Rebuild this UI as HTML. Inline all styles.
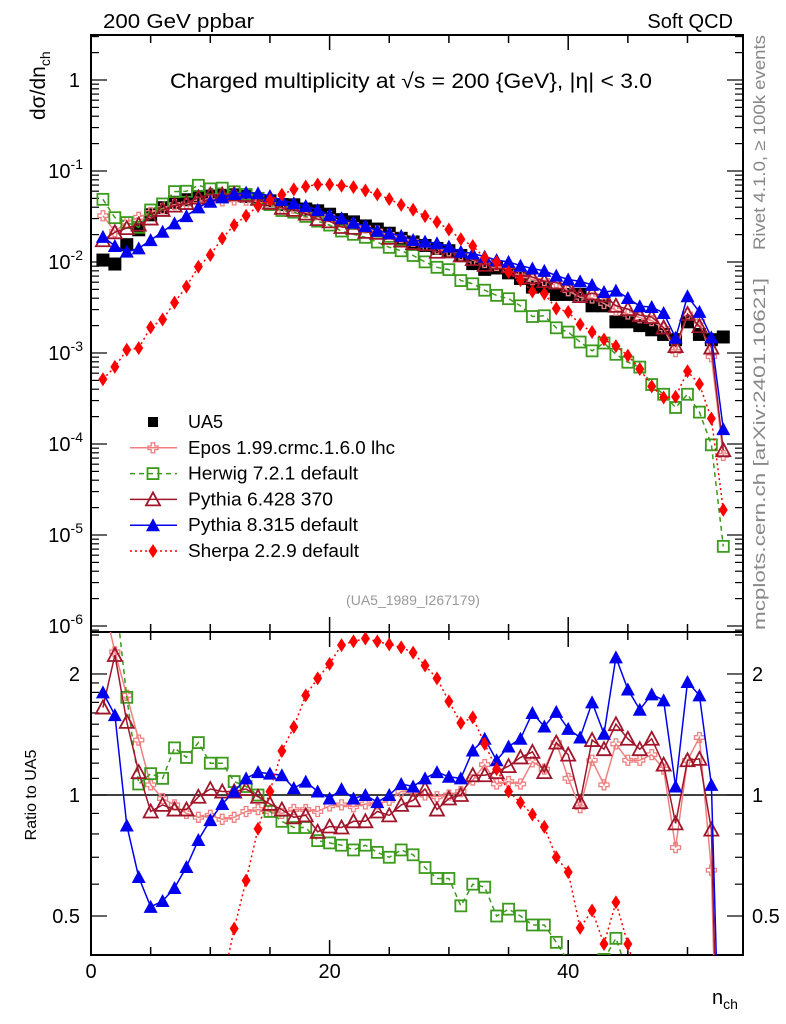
<!DOCTYPE html>
<html><head><meta charset="utf-8">
<style>
html,body{margin:0;padding:0;background:#fff;overflow:hidden;width:786px;height:1024px;}
svg{display:block;overflow:hidden;font-family:"Liberation Sans",sans-serif;}
</style></head>
<body>
<svg id="chart" width="786" height="1024" viewBox="0 0 786 1024" xmlns="http://www.w3.org/2000/svg">
<defs>
<clipPath id="clipMain"><rect x="91" y="35" width="652" height="597"/></clipPath>
<clipPath id="clipRatio"><rect x="91" y="632" width="652" height="323"/></clipPath>
</defs>
<text x="103" y="28" font-size="20" textLength="151" lengthAdjust="spacingAndGlyphs">200 GeV ppbar</text>
<text x="733" y="28" font-size="20" text-anchor="end">Soft QCD</text>
<text x="170" y="88" font-size="21" textLength="482" lengthAdjust="spacingAndGlyphs">Charged multiplicity at √s = 200 {GeV}, |η| &lt; 3.0</text>
<text transform="translate(45,120) rotate(-90)" font-size="21">dσ/dn<tspan font-size="14" dy="5">ch</tspan></text>
<text transform="translate(36,795) rotate(-90)" font-size="16" text-anchor="middle">Ratio to UA5</text>
<text transform="translate(765,250) rotate(-90)" font-size="17" fill="#888" textLength="215" lengthAdjust="spacingAndGlyphs">Rivet 4.1.0, ≥ 100k events</text>
<text transform="translate(765,630) rotate(-90)" font-size="17" fill="#888" textLength="352" lengthAdjust="spacingAndGlyphs">mcplots.cern.ch [arXiv:2401.10621]</text>
<text x="413" y="605" font-size="14" fill="#999" text-anchor="middle">(UA5_1989_I267179)</text>
<text x="712" y="1004" font-size="20">n<tspan font-size="14" dy="5">ch</tspan></text>
<g id="axes"></g>
<g id="mainMarks" clip-path="url(#clipMain)"></g>
<g id="ratioMarks" clip-path="url(#clipRatio)"></g>
<g id="legend"></g>
</svg>
<script>
const nch = [1,2,3,4,5,6,7,8,9,10,11,12,13,14,15,16,17,18,19,20,21,22,23,24,25,26,27,28,29,30,31,32,33,34,35,36,37,38,39,40,41,42,43,44,45,46,47,48,49,50,51,52,53];
const ua5 = [0.0105,0.0095,0.0155,0.0226,0.033,0.0395,0.0453,0.0483,0.0516,0.053,0.054,0.0547,0.0526,0.0499,0.047,0.0428,0.0425,0.0382,0.0365,0.0335,0.0292,0.0276,0.0249,0.023,0.0207,0.0182,0.0166,0.0152,0.0141,0.0133,0.0118,0.0096,0.0083,0.0086,0.0076,0.0066,0.0053,0.0054,0.0044,0.0044,0.0044,0.0033,0.0033,0.0022,0.0022,0.0020,0.0018,0.0016,0.0014,0.0022,0.0016,0.0014,0.0015];
const ratioEpos = [3.07,2.27,1.77,1.37,1.06,0.98,0.945,0.90,0.88,0.89,0.87,0.88,0.91,0.92,0.91,0.90,0.92,0.92,0.91,0.94,0.945,0.935,0.95,0.95,0.97,1.02,1.02,1.0,0.99,1.0,1.02,1.09,1.19,1.065,1.08,1.065,1.21,1.16,1.35,1.10,0.93,1.22,1.06,1.34,1.22,1.22,1.26,1.16,0.74,1.22,1.39,0.65,0.05];
const ratioHerwig = [4.65,3.23,1.75,1.065,1.13,1.10,1.31,1.24,1.35,1.20,1.20,1.08,1.05,1.0,0.91,0.86,0.83,0.83,0.77,0.76,0.75,0.73,0.75,0.72,0.70,0.73,0.71,0.66,0.62,0.62,0.53,0.60,0.59,0.50,0.52,0.50,0.475,0.475,0.43,0.386,0.30,0.32,0.39,0.44,0.36,0.35,0.25,0.22,0.18,0.16,0.14,0.07,0.005];
const ratioPy6 = [1.65,2.23,1.52,1.14,0.91,0.945,0.92,0.92,0.99,1.035,1.02,1.02,1.035,0.99,0.95,0.92,0.88,0.89,0.81,0.835,0.83,0.86,0.86,0.91,0.89,0.945,0.97,1.035,0.92,0.98,1.0,1.12,1.12,1.14,1.18,1.24,1.28,1.14,1.35,1.26,0.96,1.37,1.30,1.50,1.38,1.30,1.38,1.19,0.85,1.22,1.23,0.82,0.057];
const ratioPy8 = [1.80,1.58,0.84,0.625,0.527,0.545,0.587,0.662,0.773,0.866,0.95,1.02,1.10,1.14,1.13,1.12,1.04,1.08,1.02,0.98,1.035,0.98,1.0,0.96,1.0,1.065,1.05,1.10,1.14,1.11,1.10,1.29,1.38,1.22,1.32,1.38,1.60,1.48,1.61,1.46,1.39,1.70,1.42,2.20,1.83,1.63,1.78,1.72,1.05,1.91,1.77,1.06,0.097];
const ratioSherpa = [0.049,0.074,0.07,0.05,0.058,0.059,0.079,0.111,0.172,0.225,0.337,0.465,0.613,0.824,1.02,1.287,1.476,1.77,1.95,2.12,2.36,2.41,2.45,2.41,2.37,2.33,2.26,2.10,1.95,1.71,1.51,1.56,1.34,1.16,1.02,0.957,0.894,0.833,0.70,0.643,0.467,0.516,0.426,0.541,0.426,0.334,0.239,0.2025,0.236,0.286,0.284,0.136,0.0126];
const xTickLabels = [0,20,40];
const yTickExps = [0,-1,-2,-3,-4,-5,-6];
const ratioTickLabels = [2,1,0.5];
const legendLabels = ["UA5","Epos 1.99.crmc.1.6.0 lhc","Herwig 7.2.1 default","Pythia 6.428 370","Pythia 8.315 default","Sherpa 2.2.9 default"];

const NS="http://www.w3.org/2000/svg";
const X0=91,X1=743,YT=35,YM=632,YB=955;
const xs = n => 91 + n*11.93;
const ys = v => 80 - 91*Math.log10(v);
const yr = r => 795 - 402*Math.log10(r);
function mk(tag,attrs,parent){const e=document.createElementNS(NS,tag);for(const k in attrs)e.setAttribute(k,attrs[k]);parent.appendChild(e);return e;}
const axes=document.getElementById('axes');
let f1=mk('rect',{x:X0,y:YT,width:X1-X0,height:YM-YT,fill:'none',stroke:'#000','stroke-width':2},axes);


let f2=mk('rect',{x:X0,y:YM,width:X1-X0,height:YB-YM,fill:'none',stroke:'#000','stroke-width':2},axes);


for(let v=0;v<=54;v+=5){
  const x=xs(v); if(x>X1) break;
  const L=(v%20===0)?15:8;
  for(const [y0,d] of [[YT,1],[YM,-1],[YM,1],[YB,-1]]){
    const t=mk('line',{x1:x,x2:x,y1:y0,y2:y0+d*L,stroke:'#000','stroke-width':1.5},axes);
    
    
  }
}
xTickLabels.forEach(v=>{
  const t=mk('text',{x:xs(v),y:978,'font-size':20,'text-anchor':'middle'},axes);
  t.textContent=v;
  
  
});
for(let e=-7;e<=0;e++){
  for(let m=1;m<=9;m++){
    const y=ys(m*Math.pow(10,e)); if(y<YT||y>YM) continue;
    const L=m===1?16:8;
    for(const [x0,d] of [[X0,1],[X1,-1]]){
      const t=mk('line',{x1:x0,x2:x0+d*L,y1:y,y2:y,stroke:'#000','stroke-width':1.2},axes);
      
      
    }
  }
}
yTickExps.forEach(e=>{
  const y=ys(Math.pow(10,e));
  const t=mk('text',{x:80,y:y+7,'font-size':20,'text-anchor':'end'},axes);
  
  
  if(e===0){t.textContent='1';}
  else{t.innerHTML='10<tspan font-size="14" dy="-9">'+e+'</tspan>';t.setAttribute('x',83);}
});
[0.4,0.5,0.6,0.7,0.8,0.9,1,1.1,1.2,1.3,1.4,1.5,1.6,1.7,1.8,1.9,2,2.5].forEach(r=>{
  const y=yr(r); if(y<YM||y>YB) return;
  const L=(r===1||r===2||r===0.5)?16:8;
  for(const [x0,d] of [[X0,1],[X1,-1]]){
    const t=mk('line',{x1:x0,x2:x0+d*L,y1:y,y2:y,stroke:'#000','stroke-width':1.2},axes);
    
    
  }
});
ratioTickLabels.forEach(r=>{
  for(const [x,a] of [[80,'end'],[752,'start']]){
    const t=mk('text',{x:x,y:yr(r)+7,'font-size':20,'text-anchor':a},axes);
    t.textContent=r;
    
    
  }
});
const ref=mk('line',{x1:X0,x2:X1,y1:yr(1),y2:yr(1),stroke:'#000','stroke-width':1.5},axes);



function marker(g,type,x,y,color){
  let e;
  if(type==='sqfill') e=mk('rect',{x:x-6.5,y:y-6.5,width:13,height:13,fill:'#000'},g);
  else if(type==='sqopen') e=mk('rect',{x:x-5.5,y:y-5.5,width:11,height:11,fill:'none',stroke:color,'stroke-width':1.8},g);
  else if(type==='triopen') e=mk('path',{d:`M${x},${y-7}L${x+7},${y+6}L${x-7},${y+6}Z`,fill:'none',stroke:color,'stroke-width':1.8},g);
  else if(type==='trifill') e=mk('path',{d:`M${x},${y-7}L${x+7},${y+6}L${x-7},${y+6}Z`,fill:color},g);
  else if(type==='diamond') e=mk('path',{d:`M${x},${y-7}L${x+4.5},${y}L${x},${y+7}L${x-4.5},${y}Z`,fill:color},g);
  else if(type==='cross') e=mk('path',{d:`M${x-1.8},${y-5}h3.6v3.2h3.2v3.6h-3.2v3.2h-3.6v-3.2h-3.2v-3.6h3.2Z`,fill:'none',stroke:color,'stroke-width':1.3},g);
  return e;
}
const series=[
  {name:'epos',ratio:ratioEpos,color:'#f08080',dash:'',m:'cross'},
  {name:'herwig',ratio:ratioHerwig,color:'#3c9a1c',dash:'5,4',m:'sqopen'},
  {name:'pythia6',ratio:ratioPy6,color:'#a0152a',dash:'',m:'triopen'},
  {name:'pythia8',ratio:ratioPy8,color:'#0000ee',dash:'',m:'trifill'},
  {name:'sherpa',ratio:ratioSherpa,color:'#ff0000',dash:'2,3',m:'diamond'}
];
const gMain=document.getElementById('mainMarks'), gRat=document.getElementById('ratioMarks');
nch.forEach((n,i)=>{
  const e=marker(gMain,'sqfill',xs(n),ys(ua5[i]));
  
  
});
series.forEach(s=>{
  const vals=s.ratio.map((r,i)=>r*ua5[i]);
  const pm=nch.map((n,i)=>xs(n).toFixed(1)+','+ys(vals[i]).toFixed(1)).join(' ');
  const pr=nch.map((n,i)=>xs(n).toFixed(1)+','+yr(s.ratio[i]).toFixed(1)).join(' ');
  const l1=mk('polyline',{points:pm,fill:'none',stroke:s.color,'stroke-width':1.5,'stroke-dasharray':s.dash},gMain);
  
  
  const l2=mk('polyline',{points:pr,fill:'none',stroke:s.color,'stroke-width':1.5,'stroke-dasharray':s.dash},gRat);
  
  
  nch.forEach((n,i)=>{
    const e=marker(gMain,s.m,xs(n),ys(vals[i]),s.color);
    
    
    const e2=marker(gRat,s.m,xs(n),yr(s.ratio[i]),s.color);
    
    
  });
});
const gL=document.getElementById('legend');
const legendStyles=[{m:'sqfill',c:'#000',d:null}].concat(series.map(s=>({m:s.m,c:s.color,d:s.dash})));
const legendWidths=[0,207,170,145,170,171];
legendLabels.forEach((lab,i)=>{
  const y=422+i*25.8;
  const g=mk('g',{},gL);
  
  
  const st=legendStyles[i];
  if(st.d!==null) mk('line',{x1:130,x2:177,y1:y,y2:y,stroke:st.c,'stroke-width':1.5,'stroke-dasharray':st.d},g);
  if(i===0) mk('rect',{x:148,y:y-5,width:10,height:10,fill:'#000'},g);
  else marker(g,st.m,153,y,st.c);
  const t=mk('text',{x:188,y:y+6,'font-size':18},g);
  if(legendWidths[i]>0){t.setAttribute('textLength',legendWidths[i]);t.setAttribute('lengthAdjust','spacingAndGlyphs');}
  t.textContent=lab;
});
</script>
</body></html>
